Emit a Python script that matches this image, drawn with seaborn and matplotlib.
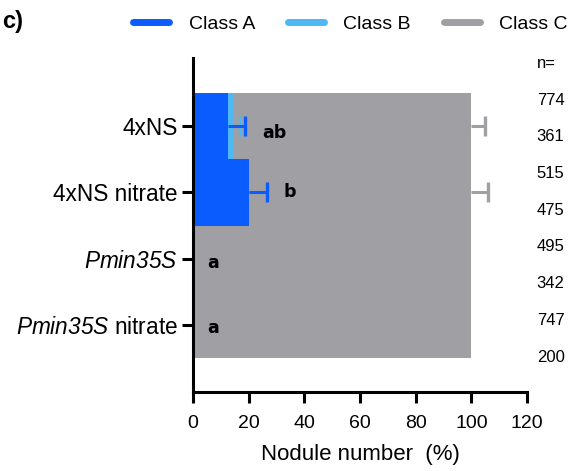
import matplotlib
matplotlib.use("Agg")
from matplotlib import pyplot as plt
from matplotlib.lines import Line2D
import seaborn as sns
import numpy as np
import pandas as pd

# data
groups = ["4xNS", "4xNS nitrate", "Pmin35S", "Pmin35S nitrate"]
group_labels = ["4xNS", "4xNS nitrate", r"$\it{Pmin35S}$", r"$\it{Pmin35S}$ nitrate"]
class_a = [12.6, 20.1, 0.0, 0.0]
class_b = [1.8, 0.0, 0.0, 0.0]
class_c = [85.6, 79.9, 100.0, 100.0]
err_a = [6.1, 6.4, 0.0, 0.0]
err_b = [2.5, 0.0, 0.0, 0.0]
err_c = [5.0, 6.0, 0.0, 0.0]
letters = ["ab", "b", "a", "a"]
n_values = [774, 361, 515, 475, 495, 342, 747, 200]

col_a = "#0A5CFF"
col_b = "#4DB8F2"
col_c = "#A09FA4"

sns.set_theme(style="white")
plt.rcParams["font.family"] = ["Liberation Sans", "DejaVu Sans"]
plt.rcParams["text.color"] = "black"
plt.rcParams["axes.labelcolor"] = "black"
plt.rcParams["xtick.color"] = "black"
plt.rcParams["ytick.color"] = "black"
# italic for the whole math run (digits included)
plt.rcParams["mathtext.fontset"] = "custom"
plt.rcParams["mathtext.it"] = "Liberation Sans:italic"
plt.rcParams["mathtext.rm"] = "Liberation Sans:italic"

df = pd.DataFrame({"group": groups, "A": class_a, "B": class_b, "C": class_c})
df["AB"] = df["A"] + df["B"]
df["ABC"] = df["AB"] + df["C"]

fig = plt.figure(figsize=(5.71, 4.71), dpi=100)
ax = fig.add_axes([0.338, 0.168, 0.585, 0.709])

# stacked bars: draw totals first, then cover
for col, colour in [("ABC", col_c), ("AB", col_b), ("A", col_a)]:
    sns.barplot(data=df, x=col, y="group", orient="h", color=colour, width=1.0,
                saturation=1, linewidth=0, ax=ax)

# one-sided error bars (line from bar end + cap at the far end only)
ypos = np.arange(len(groups))
for i in ypos:
    for val, err, colour in [(df["ABC"][i], err_c[i], col_c),
                             (df["AB"][i], err_b[i], col_b),
                             (df["A"][i], err_a[i], col_a)]:
        if err > 0:
            ax.plot([val, val + err], [i, i], color=colour, lw=2.2,
                    solid_capstyle="butt")
            ax.plot([val + err], [i], marker="|", markersize=15,
                    markeredgewidth=2.4, color=colour)

# significance letters
letter_dy = [0.1, 0.0, 0.06, 0.05]
for i, lab in enumerate(letters):
    x = df["A"][i] + err_a[i] + 6 if err_a[i] > 0 else 5
    ax.text(x, i + letter_dy[i], lab, fontsize=12.5, fontweight="bold",
            family=["DejaVu Sans"], va="center", ha="left")

# n labels on the right
ax.text(123.5, -0.953, "n=", fontsize=12, va="center", ha="left", clip_on=False)
for yv, nv in zip(np.linspace(-0.394, 3.485, len(n_values)), n_values):
    ax.text(123.5, yv, str(nv), fontsize=12, va="center", ha="left", clip_on=False)

ax.set_xlim(0, 120)
ax.set_ylim(3.5 + 0.51, -0.5 - 0.53)
ax.set_xticks(np.arange(0, 121, 20))
ax.set_yticks(ypos)
ax.set_yticklabels(group_labels)
ax.set_ylabel("")
ax.set_xlabel("Nodule number  (%)", fontsize=16, labelpad=8)
ax.tick_params(axis="x", labelsize=14, direction="out", length=8, width=2.2,
               bottom=True, pad=9)
ax.tick_params(axis="y", labelsize=16.3, direction="out", length=8, width=2.2,
               left=True, pad=3)
sns.despine(ax=ax)
for s in ["left", "bottom"]:
    ax.spines[s].set_linewidth(2.2)
    ax.spines[s].set_color("black")

# legend at the top
handles = [Line2D([0], [0], color=c, lw=5) for c in [col_a, col_b, col_c]]
fig.legend(handles, ["Class A", "Class B", "Class C"], loc="center",
           bbox_to_anchor=(0.614, 0.949), ncol=3, frameon=False, fontsize=14,
           handlelength=1.85, handletextpad=1.0, columnspacing=1.7)

fig.text(0.003, 0.955, "c)", fontsize=17, fontweight="bold", va="center",
         ha="left")

fig.savefig("out.png", dpi=100)
